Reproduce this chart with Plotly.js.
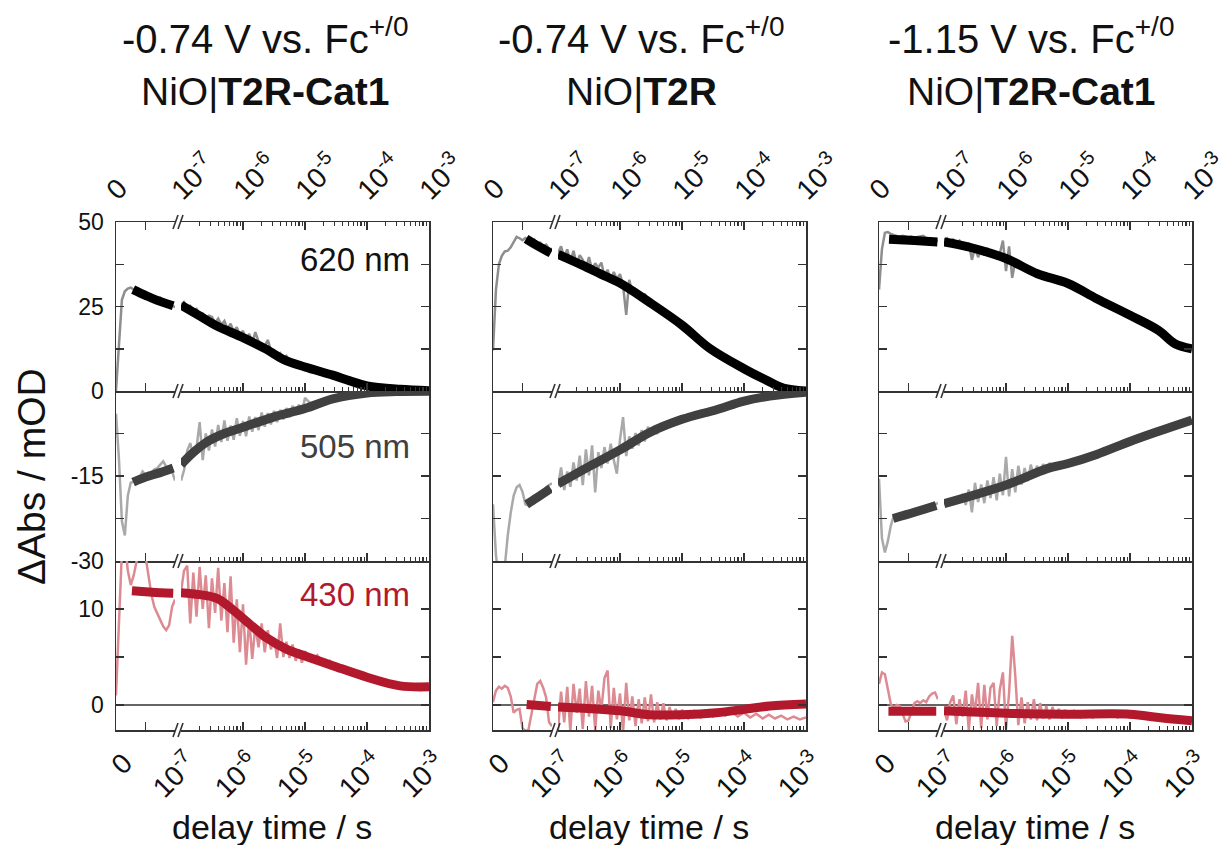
<!DOCTYPE html>
<html><head><meta charset="utf-8">
<script src="https://cdn.plot.ly/plotly-3.0.1.min.js"></script>
<style>html,body{margin:0;padding:0;background:#fff}#chart{width:1221px;height:845px}</style>
</head><body><div id="chart"></div>
<script>
// ---------------- DATA ----------------
// shared time grids (s)
const t_lin = [0, 5e-9, 1e-8, 1.5e-8, 2e-8, 2.5e-8, 3e-8, 3.5e-8, 4e-8, 4.5e-8, 5e-8, 5.5e-8, 6e-8, 6.5e-8, 7e-8, 7.5e-8, 8e-8, 8.5e-8, 9e-8, 9.5e-8, 1e-7];
const t_log = [1.00e-7,1.12e-7,1.26e-7,1.41e-7,1.58e-7,1.78e-7,2.00e-7,2.24e-7,2.51e-7,2.82e-7,3.16e-7,3.55e-7,3.98e-7,4.47e-7,5.01e-7,5.62e-7,6.31e-7,7.08e-7,7.94e-7,8.91e-7,
  1.00e-6,1.12e-6,1.26e-6,1.41e-6,1.58e-6,1.78e-6,2.00e-6,2.24e-6,2.51e-6,2.82e-6,3.16e-6,3.55e-6,3.98e-6,4.47e-6,5.01e-6,5.62e-6,6.31e-6,7.08e-6,7.94e-6,8.91e-6,
  1.00e-5,1.26e-5,1.58e-5,2.00e-5,2.51e-5,3.16e-5,3.98e-5,5.01e-5,6.31e-5,7.94e-5,
  1.00e-4,1.26e-4,1.58e-4,2.00e-4,2.51e-4,3.16e-4,3.98e-4,5.01e-4,6.31e-4,7.94e-4,
  1.00e-3];

// Column A: -0.74 V, NiO|T2R-Cat1
const A620_raw_lin = [0, 12, 27, 29.5, 30.3, 30.6, 30.0, 29.6, 29.0, 28.8, 28.3, 28.0, 27.4, 27.8, 27.3, 27.6, 26.4, 26.8, 25.7, 25.3, 24.8];
const A620_raw_log = [25.6, 26.3, 24.8, 25.2, 23.9, 24.3, 22.6, 22.9, 21.6, 22.3, 21.9, 20.2, 21.4, 19.6, 20.7, 18.4, 19.9, 17.6, 18.9, 16.5, 17.8, 15.1, 16.9, 14.2, 17.4, 14.7, 13.4, 13.2, 15.1, 12.0, 12.1, 10.5, 11.2, 9.6, 10.4, 8.9, 9.1, 8.3, 8.2, 7.6, 7.3, 6.9, 6.2, 5.8, 5.0, 4.6, 4.0, 3.3, 2.6, 2.0, 1.5, 1.2, 0.9, 0.8, 0.6, 0.5, 0.4, 0.3, 0.2, 0.15, 0.1];
const A620_fit_lin_t = [2.9e-8, 5e-8, 7e-8, 9.7e-8];
const A620_fit_lin_v = [30, 28.3, 26.8, 25.2];
const A620_fit_log_t = [1e-7, 2e-7, 3.8e-7, 1e-6, 2.4e-6, 4.4e-6, 1e-5, 2.8e-5, 5.3e-5, 1e-4, 3.4e-4, 1e-3];
const A620_fit_log_v = [25.4, 22.2, 19.2, 15.8, 12.3, 9.4, 7.1, 4.7, 3.0, 1.5, 0.5, 0.1];

const A505_raw_lin = [-4, -12, -23, -25.5, -18.5, -16.2, -16.0, -15.6, -15.4, -14.2, -14.8, -14.6, -14.4, -13.8, -13.6, -13.0, -12.4, -13.3, -13.5, -14.2, -15.8];
const A505_raw_log = [-15.8, -14.0, -10.5, -9.2, -11.5, -10.0, -5.5, -12.2, -7.5, -10.5, -6.8, -9.8, -6.0, -9.0, -5.2, -8.8, -6.1, -8.6, -4.8, -7.9, -5.3, -8.0, -4.5, -7.2, -4.6, -6.9, -3.8, -6.3, -3.9, -5.9, -3.5, -5.5, -3.3, -5.0, -3.0, -4.6, -2.6, -4.2, -2.4, -3.8, -1.2, -2.3, -2.4, -1.6, -1.6, -1.1, -1.0, -0.7, -0.55, -0.45, -0.35, -0.3, -0.25, -0.2, -0.15, -0.1, -0.1, -0.08, -0.05, -0.05, 0];
const A505_fit_lin_t = [2.9e-8, 5e-8, 7.5e-8, 9.7e-8];
const A505_fit_lin_v = [-16.1, -15.2, -14.4, -13.6];
const A505_fit_log_t = [1e-7, 1.6e-7, 2.6e-7, 5e-7, 1e-6, 3.1e-6, 1e-5, 2.8e-5, 1e-4, 3e-4, 1e-3];
const A505_fit_log_v = [-13.0, -10.8, -9.0, -7.5, -6.4, -4.6, -3.1, -1.4, -0.35, -0.1, -0.05];

const A430_raw_lin = [1, 9, 16, 17, 14, 12.5, 13.5, 15, 16, 16.5, 15.5, 13.5, 11.5, 10.2, 9.5, 8.8, 8.2, 7.8, 8.3, 10.2, 11.0];
const A430_raw_log = [11.8, 14.0, 14.5, 8.5, 13.8, 9.2, 14.4, 10.0, 13.5, 8.0, 13.2, 9.6, 14.3, 8.8, 12.7, 7.6, 13.4, 6.5, 11.0, 5.5, 10.5, 4.2, 9.0, 4.8, 8.3, 6.0, 8.5, 5.5, 7.8, 5.8, 7.0, 4.9, 8.5, 5.0, 6.6, 4.9, 6.3, 4.6, 5.8, 4.4, 5.6, 4.6, 5.2, 4.2, 4.6, 3.9, 4.0, 3.4, 3.3, 2.9, 3.0, 2.6, 2.5, 2.2, 2.2, 2.0, 2.0, 1.85, 1.9, 1.85, 1.9];
const A430_fit_lin_t = [2.7e-8, 5e-8, 7.5e-8, 9.7e-8];
const A430_fit_lin_v = [11.9, 11.8, 11.7, 11.65];
const A430_fit_log_t = [1e-7, 2e-7, 3.8e-7, 6.9e-7, 1.3e-6, 2.4e-6, 5.1e-6, 1e-5, 2.8e-5, 1e-4, 3.4e-4, 1e-3];
const A430_fit_log_v = [11.7, 11.5, 11.1, 9.9, 8.4, 7.0, 5.8, 5.1, 4.1, 2.9, 2.0, 1.9];

// Column B: -0.74 V, NiO|T2R
const B620_raw_lin = [12, 30, 37.5, 40.0, 41.3, 41.5, 42.5, 44.0, 45.6, 45.2, 44.6, 45.3, 44.9, 44.2, 44.8, 43.6, 43.9, 42.8, 43.3, 42.1, 42.0];
const B620_raw_log = [40.8, 42.8, 39.5, 41.9, 38.2, 41.5, 37.4, 40.2, 38.8, 36.3, 39.6, 35.8, 37.8, 36.5, 38.0, 33.8, 35.9, 32.5, 35.2, 33.0, 34.6, 31.2, 22.5, 32.9, 29.0, 30.2, 29.5, 27.6, 28.8, 26.6, 26.8, 25.1, 24.9, 24.2, 23.0, 22.9, 21.6, 21.3, 20.4, 20.1, 19.4, 18.1, 16.6, 15.4, 13.9, 12.6, 11.4, 10.2, 9.0, 7.8, 6.6, 5.7, 4.8, 3.9, 3.0, 2.2, 1.6, 1.0, 0.6, 0.3, 0.0];
const B620_fit_lin_t = [5.6e-8, 7.5e-8, 9.8e-8];
const B620_fit_lin_v = [45.0, 43.0, 40.8];
const B620_fit_log_t = [1e-7, 2.4e-7, 5e-7, 1e-6, 2.9e-6, 1e-5, 2.8e-5, 1e-4, 2.6e-4, 4.3e-4, 1e-3];
const B620_fit_log_v = [40.4, 37.3, 34.5, 31.9, 26.4, 19.5, 12.6, 6.6, 2.7, 0.9, 0.0];

const B505_raw_lin = [-20, -29, -33, -34, -31, -25.5, -21.5, -18.5, -17.0, -16.6, -17.8, -20.0, -20.2, -19.6, -19.2, -18.8, -18.0, -17.7, -17.0, -16.6, -16.3];
const B505_raw_log = [-16.8, -13.5, -17.5, -14.2, -16.9, -12.6, -15.8, -11.4, -16.6, -10.3, -14.9, -9.6, -17.9, -10.8, -13.6, -9.9, -12.8, -9.3, -12.2, -14.6, -8.6, -4.6, -11.5, -8.0, -10.2, -7.4, -9.6, -6.9, -8.9, -6.3, -7.9, -6.2, -7.6, -5.7, -6.9, -5.3, -6.4, -5.0, -5.9, -4.6, -5.4, -4.1, -4.7, -3.5, -3.9, -3.0, -3.1, -2.5, -2.3, -2.0, -1.8, -1.6, -1.4, -1.2, -1.0, -0.85, -0.7, -0.55, -0.4, -0.3, -0.2];
const B505_fit_lin_t = [5.7e-8, 7.5e-8, 9.8e-8];
const B505_fit_lin_v = [-20.0, -18.8, -17.2];
const B505_fit_log_t = [1e-7, 3.2e-7, 1e-6, 2.9e-6, 1e-5, 3.6e-5, 1e-4, 2.6e-4, 1e-3];
const B505_fit_log_v = [-16.4, -13.3, -10.4, -7.4, -5.0, -3.3, -1.8, -0.9, -0.2];

const B430_raw_lin = [0.3, 1.5, 1.9, 1.7, 2.0, 1.8, 0.9, -0.8, -0.5, -0.4, -2.4, -2.7, -2.6, -1.0, 1.0, 2.2, 2.5, 1.8, 0.8, -1.8, -2.2];
const B430_raw_log = [-2.6, 1.4, -1.8, 1.9, -2.7, 2.2, -0.8, 1.7, -2.5, 2.5, -1.2, 2.0, -2.6, 1.5, -0.5, 2.8, 3.6, -2.4, 1.8, -1.5, 1.2, -2.8, 2.3, -1.6, 0.9, -2.2, 0.6, -1.9, 0.8, -1.7, 1.1, -1.8, 0.3, -1.5, 0.2, -1.6, -0.2, -1.4, -0.4, -1.5, -0.5, -1.4, -0.6, -1.3, -0.7, -1.2, -0.6, -1.1, -0.7, -1.2, -0.8, -1.3, -0.9, -1.4, -1.0, -1.4, -1.1, -1.5, -1.2, -1.5, -1.3];
const B430_fit_lin_t = [5.7e-8, 9.8e-8];
const B430_fit_lin_v = [0.05, -0.15];
const B430_fit_log_t = [1e-7, 1e-6, 2.9e-6, 1e-5, 3.6e-5, 1e-4, 2.6e-4, 1e-3];
const B430_fit_log_v = [-0.2, -0.6, -1.0, -1.0, -0.8, -0.45, -0.1, 0.1];

// Column C: -1.15 V, NiO|T2R-Cat1
const C620_raw_lin = [30, 42, 46.8, 47.0, 46.5, 46.2, 46.0, 45.6, 45.9, 45.8, 45.5, 45.7, 45.3, 45.6, 45.8, 45.9, 45.2, 45.0, 44.8, 44.6, 44.4];
const C620_raw_log = [44.6, 45.2, 44.0, 44.8, 43.6, 44.5, 43.2, 42.1, 43.9, 38.8, 42.4, 39.6, 41.8, 40.2, 42.3, 40.8, 41.2, 39.4, 40.6, 44.5, 35.5, 42.8, 33.5, 38.6, 36.8, 37.5, 36.4, 36.9, 35.8, 35.2, 34.7, 34.4, 34.1, 33.8, 33.5, 33.2, 32.9, 32.6, 32.3, 32.0, 31.8, 30.7, 29.9, 29.0, 28.0, 27.1, 26.1, 25.1, 24.1, 23.2, 22.4, 21.5, 20.5, 19.6, 18.6, 17.3, 15.9, 14.6, 13.6, 12.9, 12.5];
const C620_fit_lin_t = [1.7e-8, 6e-8, 9.9e-8];
const C620_fit_lin_v = [44.9, 44.5, 44.1];
const C620_fit_log_t = [1e-7, 2.5e-7, 1e-6, 3.2e-6, 1e-5, 2.9e-5, 1e-4, 2.9e-4, 5.3e-4, 1e-3];
const C620_fit_log_v = [44.1, 42.6, 39.2, 34.7, 31.8, 27.3, 22.4, 17.9, 14.0, 12.5];

const C505_raw_lin = [-15.5, -26, -28.5, -26.5, -23.8, -22.0, -22.3, -21.6, -22.0, -21.3, -21.5, -21.0, -20.8, -21.1, -20.5, -20.6, -20.2, -20.4, -19.9, -20.1, -19.7];
const C505_raw_log = [-19.8, -19.9, -19.4, -19.6, -19.1, -19.3, -18.2, -20.1, -17.4, -21.4, -16.2, -19.6, -16.5, -19.8, -15.8, -18.9, -15.2, -19.3, -14.6, -18.4, -11.6, -18.6, -13.8, -17.9, -13.2, -16.5, -13.6, -15.9, -13.0, -15.1, -13.2, -14.6, -12.9, -13.9, -12.7, -13.5, -12.9, -13.2, -12.7, -13.0, -12.6, -12.6, -12.1, -11.9, -11.4, -10.9, -10.5, -10.1, -9.6, -9.2, -8.9, -8.5, -8.2, -7.8, -7.4, -7.0, -6.6, -6.2, -5.8, -5.5, -5.1];
const C505_fit_lin_t = [2.4e-8, 6e-8, 9.7e-8];
const C505_fit_lin_v = [-22.5, -21.4, -20.2];
const C505_fit_log_t = [1e-7, 1e-6, 4.6e-6, 1e-5, 2.9e-5, 1e-4, 2.9e-4, 1e-3];
const C505_fit_log_v = [-19.9, -16.6, -13.7, -12.8, -11.2, -8.9, -7.1, -5.1];

const C430_raw_lin = [2.2, 3.4, 3.2, 1.8, 0.1, -0.3, 0.0, -0.1, -0.9, -1.7, -1.6, -0.7, 0.2, 0.4, 0.2, 0.5, 0.3, 0.9, 1.2, 1.3, 0.6];
const C430_raw_log = [-0.5, -1.6, 0.3, 1.0, -2.0, 0.6, -1.2, 1.5, -2.6, 1.1, -0.8, 2.3, -2.4, 2.1, -1.5, 1.8, 2.3, -2.2, 1.6, 3.4, -2.5, 1.2, 7.2, 3.1, -2.1, 0.8, -1.9, 0.3, -1.5, 0.6, -1.6, 0.2, -1.4, -0.1, -1.5, -0.2, -1.3, -0.4, -1.4, -0.5, -1.2, -0.6, -1.3, -0.7, -1.3, -0.8, -1.2, -0.8, -1.3, -0.9, -1.3, -1.0, -1.3, -1.1, -1.4, -1.3, -1.5, -1.5, -1.7, -1.6, -1.8];
const C430_fit_lin_t = [1.6e-8, 9.7e-8];
const C430_fit_lin_v = [-0.65, -0.65];
const C430_fit_log_t = [1e-7, 1e-6, 1e-5, 1e-4, 2.9e-4, 1e-3];
const C430_fit_log_v = [-0.6, -0.85, -0.95, -0.95, -1.3, -1.65];

// text / tick labels
const titles1 = ['-0.74 V vs. Fc<sup>+/0</sup>', '-0.74 V vs. Fc<sup>+/0</sup>', '-1.15 V vs. Fc<sup>+/0</sup>'];
const titles2 = ['NiO|<b>T2R-Cat1</b>', 'NiO|<b>T2R</b>', 'NiO|<b>T2R-Cat1</b>'];
const wavelengths = ['620 nm', '505 nm', '430 nm'];
const yTickVals = [[0, 25, 50], [-30, -15], [0, 10]];
const yTickText = [['0', '25', '50'], ['-30', '-15'], ['0', '10']];
const yMinorVals = [[12.5, 37.5], [-22.5, -7.5], [5]];
const yRanges = [[0, 50], [-30, 0], [-2.6, 15]];
const linTickVals = [0];
const linTickText = ['0'];
const linMinorVals = [5e-8];
const logTickVals = [1e-7, 1e-6, 1e-5, 1e-4, 1e-3];
const logTickText = ['10<sup>-7</sup>', '10<sup>-6</sup>', '10<sup>-5</sup>', '10<sup>-4</sup>', '10<sup>-3</sup>'];
const minorMant = [2, 3, 4, 5, 6, 7, 8, 9];
const minorDecades = [1e-7, 1e-6, 1e-5, 1e-4];

// ---------------- LAYOUT (pixels) ----------------
const W = 1221, H = 845;
const colL = [116, 493, 879];
const LIN_W = 59, LOG_X0 = 65, PANEL_W = 313;
const rowEdges = [222, 391, 561, 730];
const axisColor = '#333333';
const rowStyle = [
  {raw: '#8e8e8e', fit: '#000000', label: '#111111'},
  {raw: '#a9a9a9', fit: '#404040', label: '#404040'},
  {raw: '#dd8b93', fit: '#b3192c', label: '#b3192c'}
];
const FONT = 'Liberation Sans, Arial, Helvetica, sans-serif';
const XTICK_SIZE = 28;

const panelData = {
  A: [[A620_raw_lin, A620_raw_log, A620_fit_lin_t, A620_fit_lin_v, A620_fit_log_t, A620_fit_log_v],
      [A505_raw_lin, A505_raw_log, A505_fit_lin_t, A505_fit_lin_v, A505_fit_log_t, A505_fit_log_v],
      [A430_raw_lin, A430_raw_log, A430_fit_lin_t, A430_fit_lin_v, A430_fit_log_t, A430_fit_log_v]],
  B: [[B620_raw_lin, B620_raw_log, B620_fit_lin_t, B620_fit_lin_v, B620_fit_log_t, B620_fit_log_v],
      [B505_raw_lin, B505_raw_log, B505_fit_lin_t, B505_fit_lin_v, B505_fit_log_t, B505_fit_log_v],
      [B430_raw_lin, B430_raw_log, B430_fit_lin_t, B430_fit_lin_v, B430_fit_log_t, B430_fit_log_v]],
  C: [[C620_raw_lin, C620_raw_log, C620_fit_lin_t, C620_fit_lin_v, C620_fit_log_t, C620_fit_log_v],
      [C505_raw_lin, C505_raw_log, C505_fit_lin_t, C505_fit_lin_v, C505_fit_log_t, C505_fit_log_v],
      [C430_raw_lin, C430_raw_log, C430_fit_lin_t, C430_fit_lin_v, C430_fit_log_t, C430_fit_log_v]]
};
const colKeys = ['A', 'B', 'C'];

const minorVals = [];
minorDecades.forEach(d => minorMant.forEach(m => minorVals.push(m * d)));

const px = v => v / W;
const py = v => 1 - v / H;
const key = (pfx, n) => pfx + (n === 1 ? '' : n);

const layout = {
  width: W, height: H,
  margin: {l: 0, r: 0, t: 0, b: 0},
  paper_bgcolor: '#ffffff', plot_bgcolor: 'rgba(0,0,0,0)',
  showlegend: false,
  font: {family: FONT, color: '#111111', size: 20},
  shapes: [], annotations: []
};
const traces = [];

for (let r = 0; r < 3; r++) {
  for (let c = 0; c < 3; c++) {
    const p = r * 3 + c;
    const nL = 2 * p + 1, nG = 2 * p + 2;
    const L = colL[c];
    const yDom = [py(rowEdges[r + 1]), py(rowEdges[r])];
    const mkX = () => ({
      showline: true, linecolor: axisColor, linewidth: 1.5,
      ticks: 'inside', ticklen: 8, tickwidth: 1.5, tickcolor: axisColor,
      showgrid: false, zeroline: false,
      side: r === 0 ? 'top' : 'bottom', mirror: r === 0 ? 'ticks' : false,
      showticklabels: r !== 1, tickangle: -45,
      tickfont: {family: FONT, size: XTICK_SIZE, color: '#111111'},
      ticklabelstandoff: 4, ticklabelshift: r === 0 ? -8 : 8,
      ticklabeloverflow: 'allow', fixedrange: true, tickmode: 'array'
    });
    layout[key('xaxis', nL)] = Object.assign(mkX(), {
      type: 'linear', range: [0, 1e-7], domain: [px(L), px(L + LIN_W)],
      anchor: key('y', nL), tickvals: linTickVals, ticktext: linTickText,
      minor: {tickmode: 'array', tickvals: linMinorVals, ticks: 'inside', ticklen: 8, tickwidth: 1.5, tickcolor: axisColor, showgrid: false}
    });
    layout[key('xaxis', nG)] = Object.assign(mkX(), {
      type: 'log', range: [-7, -3], domain: [px(L + LOG_X0), px(L + PANEL_W)],
      anchor: key('y', nG), tickvals: logTickVals, ticktext: logTickText,
      minor: {tickmode: 'array', tickvals: minorVals, ticks: 'inside', ticklen: 4, tickwidth: 1.2, tickcolor: axisColor, showgrid: false}
    });
    const mkY = () => ({
      domain: yDom, range: yRanges[r], showline: true, linecolor: axisColor, linewidth: 1.5,
      ticks: 'inside', ticklen: 8, tickwidth: 1.5, tickcolor: axisColor,
      tickmode: 'array', tickvals: yTickVals[r], ticktext: yTickText[r],
      minor: {tickmode: 'array', tickvals: yMinorVals[r], ticks: 'inside', ticklen: 8, tickwidth: 1.5, tickcolor: axisColor, showgrid: false},
      showgrid: false, zeroline: false, fixedrange: true,
      tickfont: {family: FONT, size: 23, color: '#111111'}, ticklabelstandoff: 6
    });
    layout[key('yaxis', nL)] = Object.assign(mkY(), {anchor: key('x', nL), side: 'left', showticklabels: c === 0});
    layout[key('yaxis', nG)] = Object.assign(mkY(), {anchor: key('x', nG), side: 'right', showticklabels: false});

    const d = panelData[colKeys[c]][r];
    const st = rowStyle[r];
    traces.push({x: t_lin, y: d[0], xaxis: key('x', nL), yaxis: key('y', nL), mode: 'lines', line: {color: st.raw, width: 2.5}, hoverinfo: 'skip'});
    traces.push({x: t_log, y: d[1], xaxis: key('x', nG), yaxis: key('y', nG), mode: 'lines', line: {color: st.raw, width: 2.5}, hoverinfo: 'skip'});
    traces.push({x: d[2], y: d[3], xaxis: key('x', nL), yaxis: key('y', nL), mode: 'lines', line: {color: st.fit, width: 9, shape: 'spline'}, hoverinfo: 'skip'});
    traces.push({x: d[4], y: d[5], xaxis: key('x', nG), yaxis: key('y', nG), mode: 'lines', line: {color: st.fit, width: 9, shape: 'spline'}, hoverinfo: 'skip'});

    if (r === 2) {
      layout.shapes.push({type: 'line', xref: 'paper', x0: px(L), x1: px(L + PANEL_W), yref: key('y', nL), y0: 0, y1: 0,
        line: {color: axisColor, width: 1.5}, layer: 'below'});
    }
  }
}

// axis-break marks "//"
for (let c = 0; c < 3; c++) {
  const xm = colL[c] + LIN_W;
  rowEdges.forEach(ye => {
    [0, 5].forEach(off => {
      layout.shapes.push({type: 'line', xref: 'paper', yref: 'paper',
        x0: px(xm - 2 + off), y0: py(ye + 7), x1: px(xm + 3 + off), y1: py(ye - 7),
        line: {color: axisColor, width: 1.6}});
    });
  });
}

// titles
const colCenters = [265, 641, 1031];
for (let c = 0; c < 3; c++) {
  layout.annotations.push({xref: 'paper', yref: 'paper', x: px(colCenters[c]), y: py(36), text: titles1[c], showarrow: false,
    xanchor: 'center', yanchor: 'middle', font: {family: FONT, size: 40, color: '#111111'}});
  layout.annotations.push({xref: 'paper', yref: 'paper', x: px(colCenters[c]), y: py(91), text: titles2[c], showarrow: false,
    xanchor: 'center', yanchor: 'middle', font: {family: FONT, size: 39, color: '#111111'}});
}
// wavelength labels
const labelY = [259, 446, 594];
for (let r = 0; r < 3; r++) {
  layout.annotations.push({xref: 'paper', yref: 'paper', x: px(412), y: py(labelY[r]), text: wavelengths[r], showarrow: false,
    xanchor: 'right', yanchor: 'middle', font: {family: FONT, size: 33, color: rowStyle[r].label}});
}
// axis titles
layout.annotations.push({xref: 'paper', yref: 'paper', x: px(31), y: py(477), text: 'ΔAbs / mOD', textangle: -90, showarrow: false,
  xanchor: 'center', yanchor: 'middle', font: {family: FONT, size: 39, color: '#111111'}});
const xTitleCenters = [272, 649, 1035];
for (let c = 0; c < 3; c++) {
  layout.annotations.push({xref: 'paper', yref: 'paper', x: px(xTitleCenters[c]), y: py(827), text: 'delay time / s', showarrow: false,
    xanchor: 'center', yanchor: 'middle', font: {family: FONT, size: 34, color: '#111111'}});
}

Plotly.newPlot('chart', traces, layout, {displayModeBar: false, staticPlot: true});
</script></body></html>
